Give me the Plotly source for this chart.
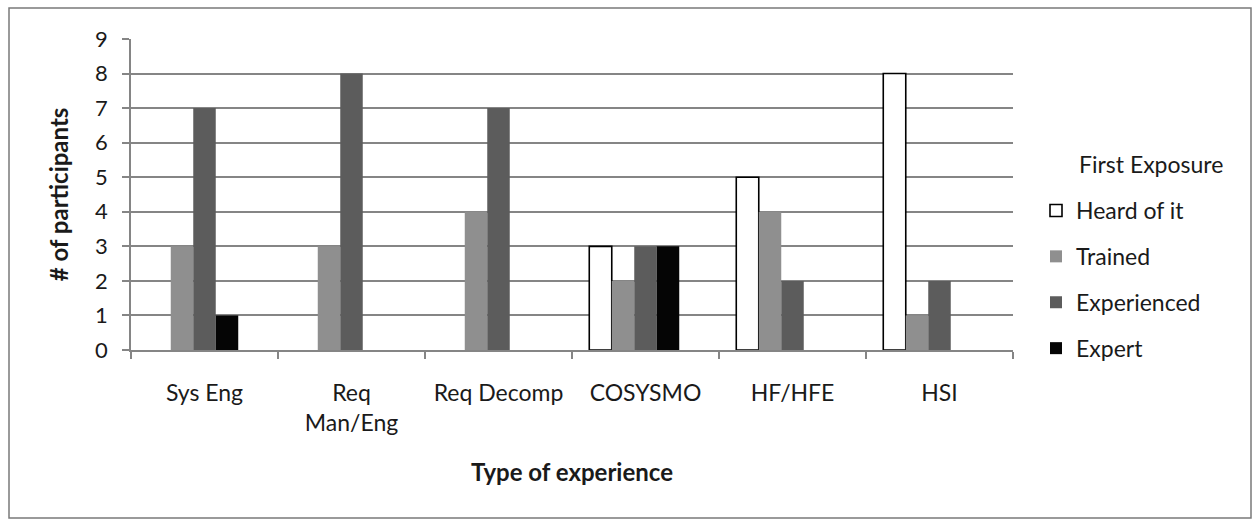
import plotly.graph_objects as go

# Survey results: first exposure level per experience type
categories = ["Sys Eng", "Req<br>Man/Eng", "Req Decomp", "COSYSMO", "HF/HFE", "HSI"]
heard_of_it = [0, 0, 0, 3, 5, 8]
trained = [3, 3, 4, 2, 4, 1]
experienced = [7, 8, 7, 3, 2, 2]
expert = [1, 0, 0, 3, 0, 0]
y_ticks = list(range(0, 10))

FONT = "Lato, 'Open Sans', sans-serif"
TEXT = "#1a1a1a"
GRID = "#858585"

W, H = 1254, 524
ML, MR, MT, MB = 131, 241, 39, 174
PW, PH = W - ML - MR, H - MT - MB

series = [
    ("Heard of it", heard_of_it, "white", "black", 1.6),
    ("Trained", trained, "#8f8f8f", "#8f8f8f", 0),
    ("Experienced", experienced, "#5c5c5c", "#5c5c5c", 0),
    ("Expert", expert, "#050505", "#050505", 0),
]

fig = go.Figure()
for i, (name, vals, color, edge, ew) in enumerate(series):
    # zero counts are left out so an outlined series draws nothing on the baseline
    shown = [v if v else None for v in vals]
    fig.add_trace(go.Bar(
        name=name, x=categories, y=shown,
        marker=dict(color=color, line=dict(color=edge, width=ew)),
        legendgroup=f"g{i}",
    ))
# empty fifth slot in each group (keeps the clustered layout of the source workbook)
fig.add_trace(go.Bar(x=categories, y=[None] * len(categories),
                     showlegend=False, hoverinfo="skip"))

def px_x(px):
    return (px - ML) / PW

def px_y(py):
    return (H - MB - py) / PH

fig.update_layout(
    width=W, height=H,
    margin=dict(l=ML, r=MR, t=MT, b=MB, autoexpand=False),
    paper_bgcolor="white", plot_bgcolor="white",
    barmode="group", bargap=0.235, bargroupgap=0,
    font=dict(family=FONT, size=22, color=TEXT),
    legend=dict(
        x=px_x(1036), xanchor="left", y=px_y(189), yanchor="top",
        font=dict(size=23, color=TEXT),
        tracegroupgap=13, itemwidth=30,
        bgcolor="rgba(0,0,0,0)",
    ),
    annotations=[dict(
        text="First Exposure", xref="paper", yref="paper",
        x=px_x(1077), y=px_y(164), xanchor="left", yanchor="middle",
        showarrow=False, font=dict(size=23, color=TEXT),
    )],
    xaxis=dict(
        type="category", showgrid=False, showline=True,
        linecolor=GRID, linewidth=1.5,
        ticks="outside", tickson="boundaries", ticklen=7,
        tickcolor=GRID, tickwidth=1.5,
        ticklabelstandoff=22,
        tickfont=dict(size=23, color=TEXT),
        title=dict(text="<b>Type of experience</b>", standoff=29,
                   font=dict(size=24, color=TEXT)),
        fixedrange=True,
    ),
    yaxis=dict(
        range=[0, 9], tickvals=y_ticks, showgrid=True,
        gridcolor=GRID, gridwidth=1.5,
        showline=True, linecolor=GRID, linewidth=1.5,
        ticks="outside", ticklen=7, tickcolor=GRID, tickwidth=1.5,
        ticklabelstandoff=10,
        tickfont=dict(size=22, color=TEXT),
        zeroline=False,
        title=dict(text="<b># of participants</b>", standoff=20,
                   font=dict(size=24, color=TEXT)),
        fixedrange=True,
    ),
    shapes=[dict(
        type="rect", xref="paper", yref="paper",
        x0=px_x(9), x1=px_x(1251), y0=px_y(518), y1=px_y(8),
        line=dict(color="#7a7a7a", width=1.5), fillcolor="rgba(0,0,0,0)",
        layer="below",
    )],
)

fig.write_html("out.html")
